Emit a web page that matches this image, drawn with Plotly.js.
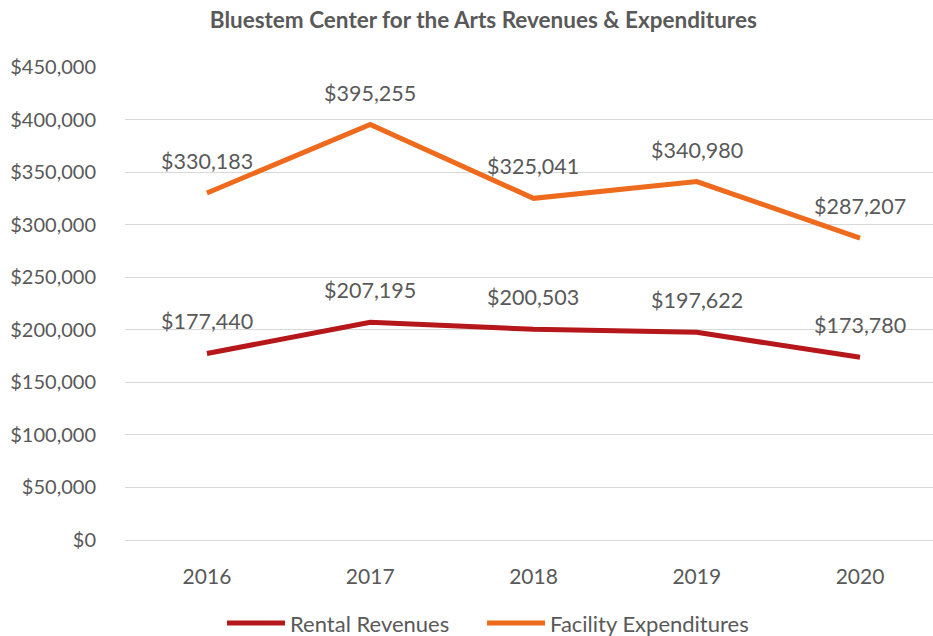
<!DOCTYPE html>
<html>
<head>
<meta charset="utf-8">
<script src="https://cdn.plot.ly/plotly-3.0.1.min.js"></script>
<style>html,body{margin:0;padding:0;background:#fff;}#chart{width:933px;height:636px;}</style>
</head>
<body>
<div id="chart"></div>
<script>
const years = ["2016", "2017", "2018", "2019", "2020"];
const rentalRevenues = [177440, 207195, 200503, 197622, 173780];
const facilityExpenditures = [330183, 395255, 325041, 340980, 287207];
const yTickVals = [0, 50000, 100000, 150000, 200000, 250000, 300000, 350000, 400000, 450000];

const fmt = v => "$" + v.toLocaleString("en-US");
const FONT = "Lato, 'Open Sans', sans-serif";
const GREY = "#595959";
const RED = "#B5171B";
const ORANGE = "#EE6A1C";

const traces = [
  {x: years, y: rentalRevenues, name: "Rental Revenues", type: "scatter", mode: "lines",
   line: {color: RED, width: 5}, legend: "legend"},
  {x: years, y: facilityExpenditures, name: "Facility Expenditures", type: "scatter", mode: "lines",
   line: {color: ORANGE, width: 5}, legend: "legend2"}
];

const annotations = [];
[rentalRevenues, facilityExpenditures].forEach(series => {
  series.forEach((v, i) => {
    annotations.push({x: i, y: v, xref: "x", yref: "y", text: fmt(v), showarrow: false, yshift: 32,
      font: {family: FONT, size: 21.5, color: GREY}});
  });
});

const legendBase = {orientation: "h", xref: "container", yref: "container", y: 0.02,
  xanchor: "left", yanchor: "middle", font: {family: FONT, size: 22, color: GREY},
  itemwidth: 58, bgcolor: "rgba(0,0,0,0)"};

const layout = {
  width: 933, height: 636,
  margin: {l: 125, r: 0, t: 67, b: 96},
  paper_bgcolor: "#fff", plot_bgcolor: "#fff",
  title: {text: "<b>Bluestem Center for the Arts Revenues &amp; Expenditures</b>",
    font: {family: FONT, size: 22.5, color: GREY}, xref: "container", x: 0.518, xanchor: "center",
    yref: "container", y: 0.968, yanchor: "middle"},
  xaxis: {type: "category", range: [-0.502, 4.447], showgrid: false, zeroline: false, showline: false,
    ticks: "outside", ticklen: 18, tickcolor: "rgba(0,0,0,0)",
    tickfont: {family: FONT, size: 21, color: GREY}, fixedrange: true},
  yaxis: {range: [0, 450000], tickvals: yTickVals, ticktext: yTickVals.map(fmt),
    showgrid: true, gridcolor: "#D9D9D9", gridwidth: 1,
    zeroline: true, zerolinecolor: "#D9D9D9", zerolinewidth: 1, showline: false,
    ticks: "outside", ticklen: 24, tickcolor: "rgba(0,0,0,0)",
    tickfont: {family: FONT, size: 20, color: GREY}, fixedrange: true},
  showlegend: true,
  legend: Object.assign({}, legendBase, {x: 222 / 933}),
  legend2: Object.assign({}, legendBase, {x: 482 / 933}),
  annotations: annotations
};

Plotly.newPlot("chart", traces, layout, {displayModeBar: false, staticPlot: true});
</script>
</body>
</html>
